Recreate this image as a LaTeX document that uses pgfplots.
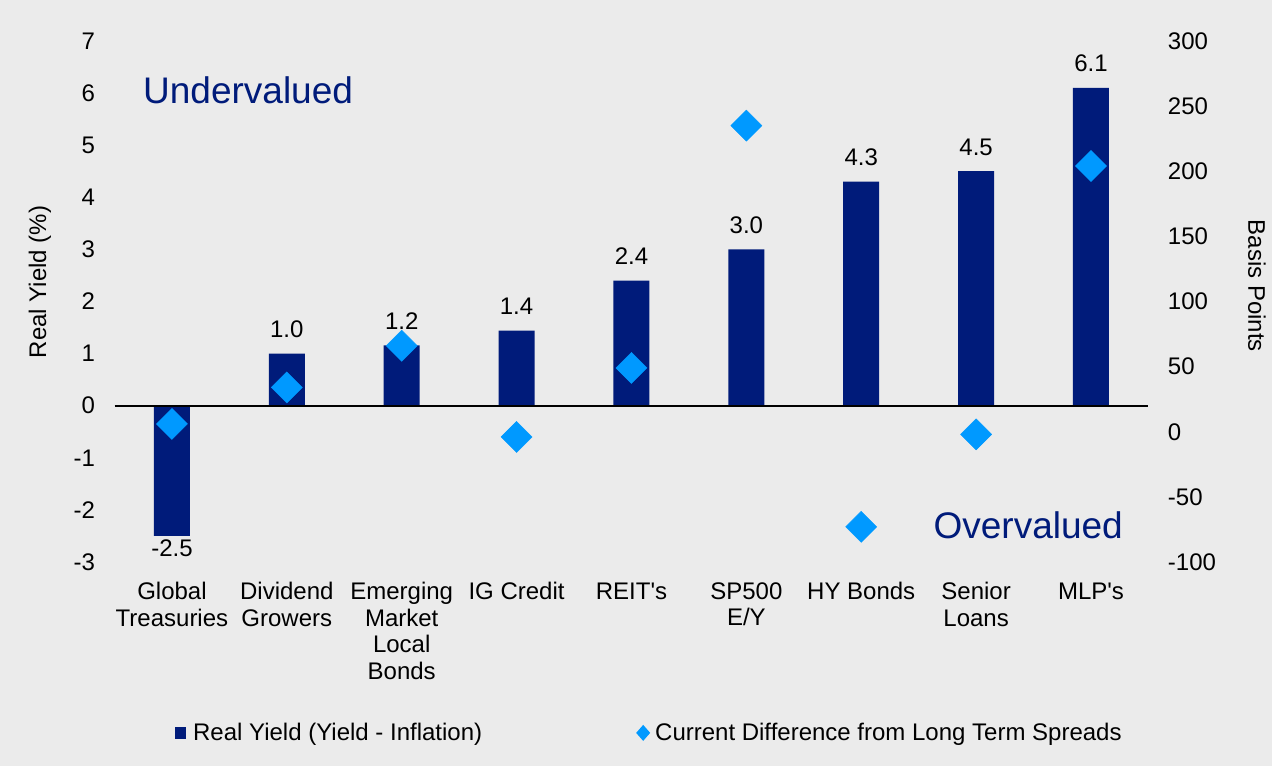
\documentclass[border=0pt]{standalone}
\usepackage{fontspec}
\setmainfont{Liberation Sans}
\usepackage{pgfplots}
\pgfplotsset{compat=1.18}
\definecolor{navy}{RGB}{0,27,122}
\definecolor{diam}{RGB}{0,153,255}
\definecolor{bg}{RGB}{235,235,235}
\newcommand{\fs}{\fontsize{24bp}{26.5bp}\selectfont}
\begin{document}
\begin{tikzpicture}
\fill[bg] (0,0) rectangle (1272bp,766bp);
\useasboundingbox (0,0) rectangle (1272bp,766bp);
\begin{axis}[
  at={(114.5bp,204bp)}, anchor=south west,
  scale only axis, width=1034bp, height=521bp,
  xmin=-0.5, xmax=8.5, ymin=-3, ymax=7,
  ybar, bar width=36bp,
  axis line style={draw=none},
  major tick length=0pt,
  xtick={0,...,8},
  xticklabels={{Global\\Treasuries},{Dividend\\Growers},{Emerging\\Market\\Local\\Bonds},{IG Credit},{REIT\textquotesingle s},{SP500\\E/Y},{HY Bonds},{Senior\\Loans},{MLP\textquotesingle s}},
  x tick label style={font=\fs, align=center, yshift=-17bp},
  ytick={-3,...,7},
  yticklabels={-3,-2,-1,0,1,2,3,4,5,6,7},
  y tick label style={font=\fs, xshift=-16bp},
  legend style={at={(0.0556,-0.328)}, anchor=west, draw=none, fill=none,
    legend columns=2, font=\fs, /tikz/every even column/.append style={column sep=152bp}},
]
\addplot[fill=navy, draw=none,
  point meta=explicit symbolic,
  nodes near coords,
  visualization depends on={rawy \as \rawy},
  every node near coord/.append style={font=\fs, text=black, yshift={ifthenelse(\rawy<0,-24,12.5)}},
  legend image code/.code={\fill[navy] (0bp,-6bp) rectangle (11bp,6bp); \path[draw=none,fill=none] (0bp,0bp) -- (16bp,0bp);}]
  coordinates {(0,-2.5) [-2.5] (1,1.0) [1.0] (2,1.16) [1.2] (3,1.44) [1.4] (4,2.4) [2.4] (5,3.0) [3.0] (6,4.3) [4.3] (7,4.5) [4.5] (8,6.1) [6.1]};
\addlegendentry{Real Yield (Yield - Inflation)}
\addlegendimage{legend image code/.code={\fill[diam,draw=none] (0bp,0bp) -- (7bp,8bp) -- (14bp,0bp) -- (7bp,-8bp) -- cycle; \path[draw=none,fill=none] (0bp,0bp) -- (17bp,0bp);}}
\addlegendentry{Current Difference from Long Term Spreads}
\draw[black, line width=2bp] (axis cs:-0.5,0) -- (axis cs:8.5,0);
\end{axis}
\begin{axis}[
  at={(114.5bp,204bp)}, anchor=south west,
  scale only axis, width=1034bp, height=521bp,
  xmin=-0.5, xmax=8.5, ymin=-100, ymax=300,
  axis x line=none, axis y line*=right, axis line style={draw=none},
  major tick length=0pt,
  ytick={-100,-50,...,300},
  yticklabels={-100,-50,0,50,100,150,200,250,300},
  y tick label style={font=\fs, xshift=16bp},
]
\addplot[only marks, color=diam, mark=square*, mark size=11bp, mark options={rotate=45, draw=none, fill=diam}]
  coordinates {(0,6) (1,34) (2,66) (3,-4) (4,49) (5,235) (6,-73) (7,-2) (8,204)};
\end{axis}
\node[font=\fontsize{37bp}{40bp}\selectfont, text=navy, anchor=west, inner sep=0pt] at (143bp,676bp) {Undervalued};
\node[font=\fontsize{37bp}{40bp}\selectfont, text=navy, anchor=east, inner sep=0pt] at (1123bp,241bp) {Overvalued};
\node[font=\fs, rotate=90] at (40bp,484bp) {Real Yield (\%)};
\node[font=\fs, rotate=-90] at (1257bp,480bp) {Basis Points};
\end{tikzpicture}
\end{document}
